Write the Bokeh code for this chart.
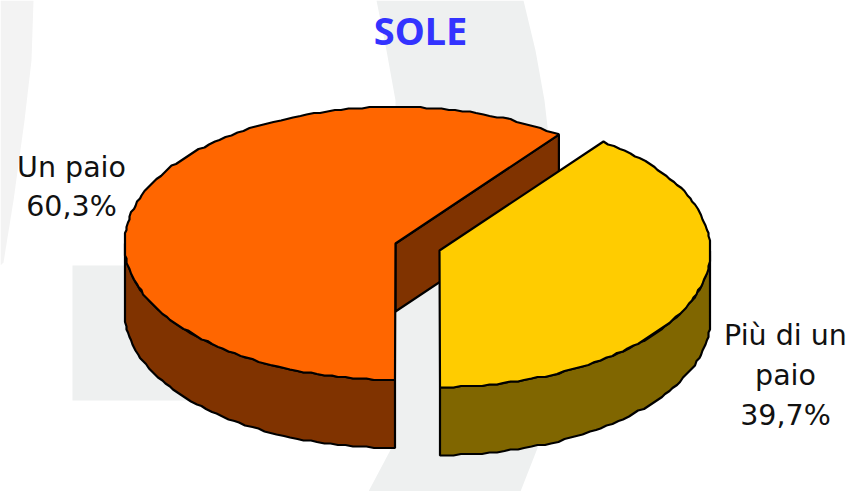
import numpy as np
from bokeh.plotting import figure
from bokeh.models import Range1d
from bokeh.core.properties import value
from bokeh.embed import file_html
from bokeh.resources import INLINE

title = "SOLE"
shares = [60.3, 39.7]
label_lines = [["Un paio", "60,3%"], ["Più di un", "paio", "39,7%"]]
top_colors = ["#FF6600", "#FFCC00"]
side_colors = ["#803300", "#806600"]
BG = "#EEF0F0"
BG_SOFT = "#F3F3F3"

# pie geometry in page pixels
centres = [(395, 243), (439, 250)]
RX, RY, DEPTH = 271, 136.5, 68
label_x = [71, 785]
label_y = [[167, 206], [335, 375, 415]]

p = figure(width=854, height=491, x_range=Range1d(0, 854), y_range=Range1d(491, 0),
           output_backend="svg", toolbar_location=None, min_border=0,
           background_fill_color="white", border_fill_color="white")
p.axis.visible = False
p.grid.visible = False
p.outline_line_color = None

# faint background artwork
bg_swoosh_left = ([0, 33, 31, 24, 13, 3, 0], [0, 0, 60, 120, 200, 262, 265])
bg_swoosh_mid = ([376, 523, 535, 544, 552, 556, 552, 540, 520, 368, 395, 395, 386],
                 [0, 0, 50, 100, 170, 260, 360, 440, 491, 491, 440, 100, 50])
bg_band = ([72, 440, 440, 72], [265, 265, 400, 400])
p.patch(*bg_swoosh_left, fill_color=BG_SOFT, line_color=None)
for xs, ys in (bg_swoosh_mid, bg_band):
    p.patch(xs, ys, fill_color=BG, line_color=None)


def rim(cx, cy, a0, a1, dy=0.0):
    """Outline of the ellipse between two angles (deg, counter-clockwise, y up);
    snapped to a fine grid, like the reference's low-resolution rim."""
    n = max(2, int(abs(a1 - a0) / 1.5))
    t = np.radians(np.linspace(a0, a1, n))
    x = np.round((cx + RX * np.cos(t)) / 1.5) * 1.5
    y = np.round((cy - RY * np.sin(t)) / 1.5) * 1.5 + dy
    return x, y


# the slices meet at the front (270 deg); the split follows from the shares
split = (270 + shares[1] / sum(shares) * 360) % 360
rad = np.radians(split)
LW = 2.2

# orange slice
cx, cy = centres[0]
sx, sy = cx + RX * np.cos(rad), cy - RY * np.sin(rad)
p.patch([cx, sx, sx, cx], [cy, sy, sy + DEPTH, cy + DEPTH],
        fill_color=side_colors[0], line_color="black", line_width=LW)
wx, wy = rim(cx, cy, 180, 270)
bx, by = rim(cx, cy, 270, 180, dy=DEPTH)
p.patch(np.r_[wx, bx], np.r_[wy, by], fill_color=side_colors[0], line_color="black", line_width=LW)
tx, ty = rim(cx, cy, split, 270)
p.patch(np.r_[cx, sx, tx], np.r_[cy, sy, ty], fill_color=top_colors[0], line_color="black", line_width=LW)

# yellow slice
cx, cy = centres[1]
wx, wy = rim(cx, cy, 270, 360)
bx, by = rim(cx, cy, 360, 270, dy=DEPTH)
p.patch(np.r_[wx, bx], np.r_[wy, by], fill_color=side_colors[1], line_color="black", line_width=LW)
tx, ty = rim(cx, cy, 270, 360 + split)
p.patch(np.r_[cx, tx], np.r_[cy, ty], fill_color=top_colors[1], line_color="black", line_width=LW)

# texts
p.text([420], [29], text=[title], text_font=value("Noto Sans"), text_font_style="bold",
       text_font_size="38px", text_color="#3333FF", text_align="center", text_baseline="middle")
for lines, x, ys in zip(label_lines, label_x, label_y):
    p.text([x] * len(lines), ys, text=lines, text_font=value("DejaVu Sans"), text_font_size="28.5px",
           text_color="#111111", text_align="center", text_baseline="middle")

open("out.html", "w").write(file_html(p, INLINE))
